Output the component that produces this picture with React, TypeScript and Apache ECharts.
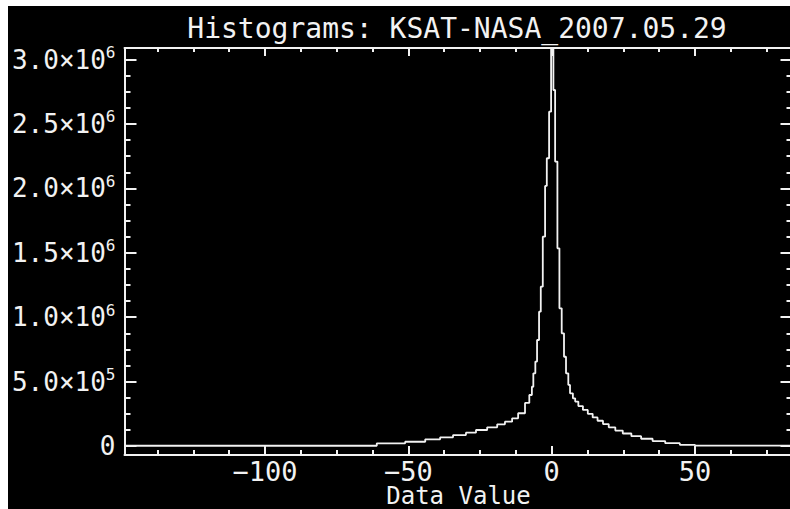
import React, { useEffect, useRef } from "react";
import * as echarts from "echarts";

const titleText = "Histograms: KSAT-NASA_2007.05.29";
const xName = "Data Value";

const xMin = -149;
const xMax = 84;
const yMin = -70000;
const yMax = 3090000;

const xMajorTicks = [-100, -50, 0, 50];
const xMinorTicks = [-137.5, -125, -112.5, -87.5, -75, -62.5, -37.5, -25, -12.5, 12.5, 25, 37.5, 62.5, 75];
const yMajorTicks = [0, 500000, 1000000, 1500000, 2000000, 2500000, 3000000];
const yMinorTicks = [
  125000, 250000, 375000, 625000, 750000, 875000, 1125000, 1250000, 1375000,
  1625000, 1750000, 1875000, 2125000, 2250000, 2375000, 2625000, 2750000, 2875000,
];

// left edge of each histogram step (data value) and its count
const binStart = [
  -149, -61.0, -51.1, -44.1, -38.9, -34.4, -29.9, -26.4, -22.5, -19.0, -16.3, -13.8,
  -11.7, -9.3, -7.8, -6.9, -6.4, -5.7, -5.1, -4.4, -3.8, -3.1, -2.3, -1.7, -0.9, -0.2,
  0.6, 1.2, 2.0, 2.7, 3.5, 4.3, 5.0, 5.8, 6.4, 7.4, 8.2, 9.3, 10.9, 12.6, 14.3, 16.0,
  17.9, 19.9, 22.2, 24.8, 27.8, 31.2, 35.2, 39.6, 44.7, 50.0, 60.0, 84,
];
const counts = [
  2000, 21000, 33000, 52000, 67000, 85000, 103000, 124000, 145000, 168000, 189000, 215000,
  254000, 334000, 396000, 460000, 564000, 655000, 823000, 1043000, 1237000, 1625000, 2019000, 2234000, 2596000, 3090000,
  2764000, 2208000, 1535000, 1069000, 875000, 693000, 564000, 474000, 409000, 370000, 345000, 310000, 280000, 250000, 222000, 196000,
  170000, 145000, 120000, 97000, 76000, 56000, 38000, 22000, 9000, 3000, 2000, 2000,
];

const FONT = "DejaVu Sans Mono";
const WHITE = "#f2f2f2";

function xLabel(v: number): string {
  return v < 0 ? "\u2212" + Math.abs(v) : String(v);
}

function yLabel(v: number): string {
  if (v === 0) return "{m|0}";
  const e = Math.floor(Math.log10(v) + 1e-9);
  const m = (v / Math.pow(10, e)).toFixed(1);
  return `{m|${m}\u00d710}{e|${e}}`;
}

export default function App() {
  const ref = useRef<HTMLDivElement>(null);
  useEffect(() => {
    if (!ref.current) return;
    const chart = echarts.init(ref.current, undefined, { renderer: "svg" });
    const line = { color: WHITE, width: 2 };
    const baseX = (position: string, ticks: number[], len: number, showLine: boolean, labels: boolean) => ({
      type: "value",
      position,
      min: xMin,
      max: xMax,
      gridIndex: 0,
      axisLine: { show: showLine, onZero: false, lineStyle: line },
      axisTick: { show: true, inside: true, length: len, customValues: ticks, lineStyle: line },
      axisLabel: labels
        ? {
            show: true,
            customValues: ticks,
            formatter: xLabel,
            color: WHITE,
            fontFamily: FONT,
            fontSize: 27,
            lineHeight: 18,
            margin: 7,
          }
        : { show: false },
      splitLine: { show: false },
    });
    const baseY = (position: string, ticks: number[], len: number, showLine: boolean, labels: boolean) => ({
      type: "value",
      position,
      min: yMin,
      max: yMax,
      gridIndex: 0,
      axisLine: { show: showLine, onZero: false, lineStyle: line },
      axisTick: { show: true, inside: true, length: len, customValues: ticks, lineStyle: line },
      axisLabel: labels
        ? {
            show: true,
            customValues: ticks,
            formatter: yLabel,
            margin: 9,
            rich: {
              m: { color: WHITE, fontFamily: FONT, fontSize: 26 },
              e: { color: WHITE, fontFamily: FONT, fontSize: 16, padding: [0, 0, 14, 0] },
            },
          }
        : { show: false },
      splitLine: { show: false },
    });
    const xMain: any = baseX("bottom", xMajorTicks, 9, true, true);
    xMain.name = xName;
    xMain.nameLocation = "middle";
    xMain.nameGap = 32;
    xMain.nameMoveOverlap = false;
    xMain.nameTextStyle = { color: WHITE, fontFamily: FONT, fontSize: 24, lineHeight: 18, verticalAlign: "top" };

    chart.setOption({
      animation: false,
      backgroundColor: "#000",
      title: {
        text: titleText,
        left: 449,
        top: 8,
        padding: 0,
        textAlign: "center",
        textStyle: { color: WHITE, fontFamily: FONT, fontSize: 28, fontWeight: "normal" },
      },
      grid: { left: 116.5, top: 42, width: 668, height: 407, containLabel: false, outerBoundsMode: "none" },
      xAxis: [
        xMain,
        baseX("top", xMajorTicks, 8, true, false),
        baseX("bottom", xMinorTicks, 5, false, false),
        baseX("top", xMinorTicks, 4, false, false),
      ],
      yAxis: [
        baseY("left", yMajorTicks, 12, true, true),
        baseY("right", yMajorTicks, 12, true, false),
        baseY("left", yMinorTicks, 6, false, false),
        baseY("right", yMinorTicks, 6, false, false),
      ],
      series: [
        {
          type: "line",
          xAxisIndex: 0,
          yAxisIndex: 0,
          step: "end",
          symbol: "none",
          clip: true,
          lineStyle: { color: WHITE, width: 1.8 },
          data: binStart.map((x, i) => [x, counts[i]]),
        },
      ],
    });
    return () => chart.dispose();
  }, []);
  return (
    <div
      ref={ref}
      style={{ position: "fixed", left: 8, top: 6, width: 782, height: 503, background: "#000" }}
    />
  );
}
